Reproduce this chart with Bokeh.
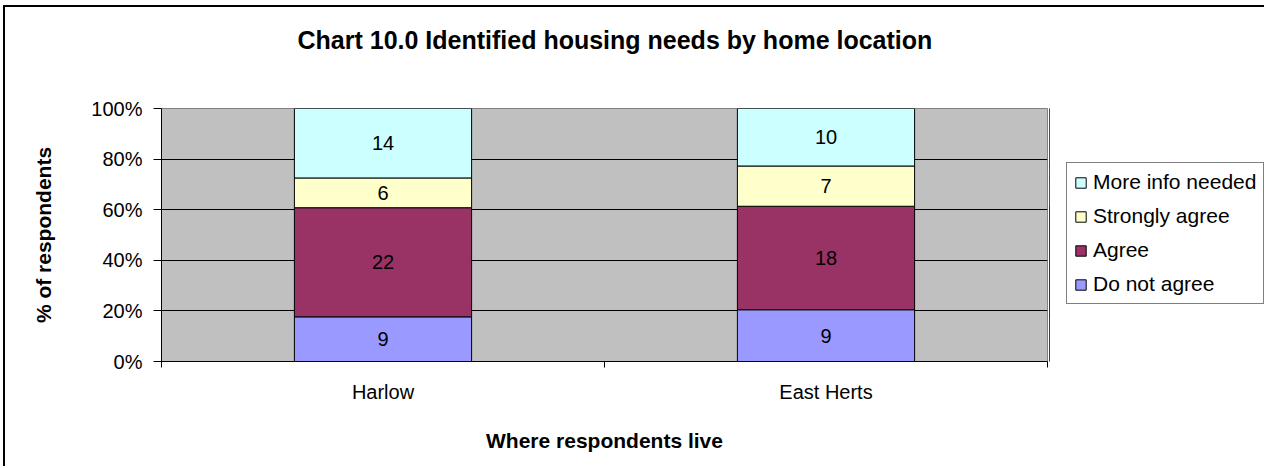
import numpy as np
from bokeh.plotting import figure
from bokeh.layouts import row
from bokeh.models import (ColumnDataSource, FixedTicker, NumeralTickFormatter,
                          Legend, LegendItem, Range1d, Title)
from bokeh.core.properties import value
from bokeh.embed import file_html
from bokeh.resources import INLINE

# ---- data ----
locations = ["Harlow", "East Herts"]
series = ["Do not agree", "Agree", "Strongly agree", "More info needed"]
do_not_agree = [9, 9]
agree = [22, 18]
strongly_agree = [6, 7]
more_info = [14, 10]
colors = ["#9999FF", "#993366", "#FFFFCC", "#CCFFFF"]
y_ticks = [0, 0.2, 0.4, 0.6, 0.8, 1.0]
title_text = "Chart 10.0  Identified housing needs by home location"
x_title = "Where respondents live"
y_title = "% of respondents"

counts = np.array([do_not_agree, agree, strongly_agree, more_info], dtype=float)
totals = counts.sum(axis=0)
shares = counts / totals
tops = np.cumsum(shares, axis=0)
bottoms = tops - shares
xc = list(np.arange(len(locations)) + 0.5)

FONT = "Liberation Sans"

# ---- main chart ----
p = figure(width=1044, height=459, x_range=Range1d(0, 2), y_range=Range1d(0, 1),
           output_backend="svg", toolbar_location=None,
           min_border_left=156, min_border_right=2,
           min_border_top=101, min_border_bottom=105)
p.title_location = None

p.background_fill_color = "#C0C0C0"
p.border_fill_color = "white"
p.outline_line_color = "#808080"
p.outline_line_width = 1

bar_sources = []
for i, name in enumerate(series):
    src = ColumnDataSource(dict(x=xc, bottom=list(bottoms[i]), top=list(tops[i])))
    bar_sources.append(src)
    p.vbar(x="x", bottom="bottom", top="top", width=0.4, source=src,
           fill_color=colors[i], line_color="black", line_width=1)

    lsrc = ColumnDataSource(dict(x=xc, y=list((bottoms[i] + tops[i]) / 2),
                                 t=[str(int(v)) for v in counts[i]]))
    p.text(x="x", y="y", text="t", source=lsrc, text_align="center",
           text_baseline="middle", text_font=value(FONT),
           text_font_size="20px", text_color="black")

# grid
p.xgrid.grid_line_color = None
p.ygrid.ticker = FixedTicker(ticks=y_ticks)
p.ygrid.grid_line_color = "black"
p.ygrid.grid_line_width = 1

# x axis
xa = p.xaxis[0]
xa.ticker = FixedTicker(ticks=xc, minor_ticks=[0, 1, 2])
xa.major_label_overrides = {xc[0]: locations[0], xc[1]: locations[1]}
xa.major_tick_out = 0
xa.major_tick_in = 0
xa.minor_tick_out = 6
xa.minor_tick_in = 0
xa.minor_tick_line_color = "black"
xa.axis_line_color = "black"
xa.major_label_text_font = FONT
xa.major_label_text_font_size = "20px"
xa.major_label_text_color = "black"
xa.major_label_standoff = 13
xa.axis_label = x_title
xa.axis_label_text_font = FONT
xa.axis_label_text_font_size = "21px"
xa.axis_label_text_font_style = "bold"
xa.axis_label_text_color = "black"
xa.axis_label_standoff = 23

# y axis
ya = p.yaxis[0]
ya.ticker = FixedTicker(ticks=y_ticks)
ya.formatter = NumeralTickFormatter(format="0%")
ya.major_tick_out = 8
ya.major_tick_in = 0
ya.minor_tick_out = 0
ya.minor_tick_in = 0
ya.major_tick_line_color = "black"
ya.axis_line_color = "black"
ya.major_label_text_font = FONT
ya.major_label_text_font_size = "20px"
ya.major_label_text_color = "black"
ya.major_label_standoff = 11
ya.axis_label = y_title
ya.axis_label_text_font = FONT
ya.axis_label_text_font_size = "21px"
ya.axis_label_text_font_style = "bold"
ya.axis_label_text_color = "black"
ya.axis_label_standoff = 33

# title: two trailing empty lines lift the text well above the plot area
title = Title(text=title_text + "\n\n", align="left", offset=136, standoff=-14,
              vertical_align="bottom", text_line_height=1.1,
              text_font=FONT, text_font_size="25px", text_font_style="bold",
              text_color="black")
p.add_layout(title, "above")

# ---- legend panel ----
q = figure(width=215, height=459, output_backend="svg", toolbar_location=None,
           x_range=Range1d(5, 6), y_range=Range1d(0, 1),
           x_axis_location=None, y_axis_location=None,
           min_border_left=0, min_border_right=0, min_border_top=101, min_border_bottom=105)
q.title_location = None
q.xgrid.visible = False
q.ygrid.visible = False
q.outline_line_color = None
q.background_fill_color = "white"
q.border_fill_color = "white"

swatches = []
for i, name in enumerate(series):
    s = q.vbar(x="x", bottom="bottom", top="top", width=0.4, source=bar_sources[i],
               fill_color=colors[i], line_color="black", line_width=1)
    swatches.append(s)

items = [LegendItem(label=series[i], renderers=[swatches[i]]) for i in reversed(range(len(series)))]
legend = Legend(items=items, location=(17, 57), margin=0, padding=7, spacing=10,
                glyph_width=13, glyph_height=13, label_standoff=6, label_height=24,
                label_text_font=FONT, label_text_font_size="21px",
                label_text_color="black", border_line_color="black",
                border_line_width=1, background_fill_color="white",
                background_fill_alpha=1.0)
q.add_layout(legend)

layout = row(p, q, spacing=0)
layout.styles = {"margin-left": "3px", "margin-top": "5px",
                 "border-left": "2px solid black", "border-top": "2px solid black"}

open("out.html", "w").write(file_html(layout, INLINE))
